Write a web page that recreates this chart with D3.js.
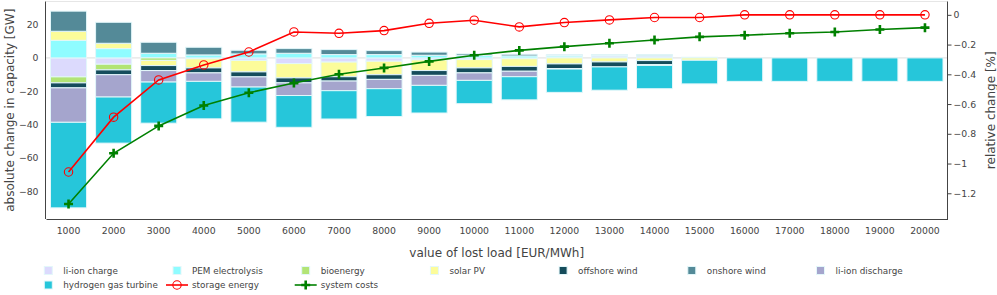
<!DOCTYPE html>
<html><head><meta charset="utf-8">
<script src="https://cdn.jsdelivr.net/npm/d3@7"></script>
<style>body{margin:0;background:#fff}svg{display:block;font-family:"DejaVu Sans",sans-serif}</style>
</head><body><svg id="c" width="997" height="295"></svg>
<script>
const categories = ["1000","2000","3000","4000","5000","6000","7000","8000","9000","10000","11000","12000","13000","14000","15000","16000","17000","18000","19000","20000"];
const seriesNames = ["li-ion charge","PEM electrolysis","bioenergy","solar PV","offshore wind","onshore wind","li-ion discharge","hydrogen gas turbine"];
const seriesColors = ["#dcdafd","#8ffcff","#b2e476","#fcfc9a","#154c5b","#548a98","#a5a5cd","#26c6da"];
const liionCharge   = [-11.4,-3.8,0,-0.5,-1.5,-3.4,-2.5,-2.0,-1.2,-1.0,-0.5,0.6,1.2,1.2,0.4,0,0,0,0,0];
const pemElectrolysis=[10.6,5.6,2.8,1.8,2.4,2.8,2.0,2.0,1.6,1.4,1.2,0.8,0.6,0.4,0,0,0,0,0,0];
const bioenergy     = [-3.6,-3.4,-1.5,0,0,0,0,0,0,0,0,0,0,0,0,0,0,0,0,0];
const solarPV       = [5.4,3.2,-3.1,-5.5,-6.9,-8.6,-8.8,-8.1,-6.4,-5.0,-4.6,-3.6,-2.4,-1.6,-1.4,0,0,0,0,0];
const offshoreWind  = [-3.0,-2.9,-3.0,-3.0,-3.0,-3.0,-2.6,-2.8,-2.9,-3.0,-2.9,-2.8,-3.0,-2.4,0,0,0,0,0,0];
const onshoreWind   = [12.1,12.6,6.6,4.6,2.2,2.8,3.0,2.4,1.9,1.0,1.0,0.6,0.2,0.4,0,0,0,0,0,0];
const liionDischarge= [-20.7,-13.4,-6.9,-5.1,-6.1,-7.6,-5.8,-5.6,-6.0,-4.5,-3.3,-0.3,0,-0.5,0,0,0,0,0,0];
const hydrogenGT    = [-51.4,-27.7,-24.7,-22.5,-21.1,-19.1,-17.0,-16.7,-16.6,-14.0,-13.9,-14.0,-14.0,-14.0,-14.2,-14.1,-14.1,-14.1,-14.1,-14.1];
const storageEnergy = [-1.057,-0.688,-0.438,-0.337,-0.25,-0.115,-0.124,-0.106,-0.057,-0.036,-0.081,-0.052,-0.034,-0.018,-0.018,0,0,0,0,0];
const systemCosts   = [-1.272,-0.931,-0.747,-0.61,-0.524,-0.459,-0.4,-0.357,-0.313,-0.272,-0.239,-0.214,-0.191,-0.169,-0.148,-0.137,-0.124,-0.115,-0.099,-0.086];
const leftTicks = [20,0,-20,-40,-60,-80];
const rightTicks = [0,-0.2,-0.4,-0.6,-0.8,-1,-1.2];
const barSeries = [liionCharge,pemElectrolysis,bioenergy,solarPV,offshoreWind,onshoreWind,liionDischarge,hydrogenGT];
const lineNames = ["storage energy","system costs"];
const lineColors = ["#ff0000","#008000"];

const svg = d3.select("#c");
const L=46, R=947.5, T=1.5, B=219;
const x = d3.scaleBand().domain(categories).range([L,R]).paddingInner(0.2).paddingOuter(0.1);
const y = d3.scaleLinear().domain([-96.8,33.9]).range([B,T]);
const y2 = d3.scaleLinear().domain([-1.373,0.0897]).range([B,T]);
const txt="#444";

// top light border & zero line
svg.append("line").attr("x1",L).attr("x2",R).attr("y1",T).attr("y2",T).attr("stroke","#e6e6e6");
svg.append("line").attr("x1",L).attr("x2",R).attr("y1",y(0)).attr("y2",y(0)).attr("stroke","#dddddd").attr("stroke-width",1);

// stacked bars (relative)
const rects=[];
categories.forEach((c,i)=>{
  let pos=0,neg=0;
  barSeries.forEach((s,k)=>{
    const v=s[i]; if(!v) return;
    let y0,y1;
    if(v>0){y0=pos;y1=pos+v;pos=y1;} else {y0=neg;y1=neg+v;neg=y1;}
    rects.push({c,k,y0,y1});
  });
});
svg.append("g").selectAll("rect").data(rects).join("rect")
  .attr("x",d=>x(d.c)).attr("width",x.bandwidth())
  .attr("y",d=>y(Math.max(d.y0,d.y1))).attr("height",d=>Math.abs(y(d.y0)-y(d.y1)))
  .attr("fill",d=>seriesColors[d.k]).attr("stroke","#e3f7fa").attr("stroke-width",1);

// axes
const gl=svg.append("g").attr("transform",`translate(${L-0.5},0)`).call(d3.axisLeft(y).tickValues(leftTicks).tickSize(0).tickPadding(7).tickFormat(d=>d3.format("")(d).replace("-","\u2212")));
gl.select(".domain").attr("stroke",txt);
const gr=svg.append("g").attr("transform",`translate(${R},0)`).call(d3.axisRight(y2).tickValues(rightTicks).tickSize(4).tickPadding(2).tickFormat(d=>String(d).replace("-","\u2212")));
gr.select(".domain").attr("stroke",txt);
const gb=svg.append("g").attr("transform",`translate(0,${B})`).call(d3.axisBottom(x).tickSize(0).tickPadding(8));
gb.select(".domain").attr("stroke",txt);
svg.selectAll(".tick text").attr("font-size",9.3).attr("fill",txt).attr("font-family","DejaVu Sans");
svg.selectAll(".tick line").attr("stroke",txt);
gl.select(".domain").attr("d",`M0,${T}V${B}`);
gr.select(".domain").attr("d",`M0,${T}V${B}`);

// lines
const cx=d=>x(d)+x.bandwidth()/2;
[storageEnergy,systemCosts].forEach((vals,j)=>{
  const line=d3.line().x((v,i)=>cx(categories[i])).y(v=>y2(v));
  svg.append("path").datum(vals).attr("d",line).attr("fill","none").attr("stroke",lineColors[j]).attr("stroke-width",1.6);
});
function marker(g,j,px,py){
  if(j===0){g.append("circle").attr("cx",px).attr("cy",py).attr("r",4.2).attr("fill","none").attr("stroke",lineColors[0]).attr("stroke-width",1.1);}
  else{g.append("path").attr("d",`M${px-4.5},${py}H${px+4.5}M${px},${py-4.5}V${py+4.5}`).attr("stroke",lineColors[1]).attr("stroke-width",2.6);}
}
const mg=svg.append("g");
[storageEnergy,systemCosts].forEach((vals,j)=>vals.forEach((v,i)=>marker(mg,j,cx(categories[i]),y2(v))));

// titles
svg.append("text").attr("x",(L+R)/2).attr("y",256.5).attr("text-anchor","middle").attr("font-size",12).attr("fill",txt).text("value of lost load [EUR/MWh]");
svg.append("text").attr("transform",`translate(14,${(T+B)/2}) rotate(-90)`).attr("text-anchor","middle").attr("font-size",12).attr("fill",txt).text("absolute change in capacity [GW]");
svg.append("text").attr("transform",`translate(995,${(T+B)/2}) rotate(-90)`).attr("text-anchor","middle").attr("font-size",12).attr("fill",txt).text("relative change [%]");

// legend
const items=seriesNames.map((n,k)=>({n,type:"bar",k})).concat(lineNames.map((n,j)=>({n,type:"line",j})));
const lg=svg.append("g");
items.forEach((it,i)=>{
  const col=i%7,row=Math.floor(i/7);
  const x0=44.3+col*128.7, yc=270.5+row*14.5;
  if(it.type==="bar"){
    lg.append("rect").attr("x",x0).attr("y",yc-4).attr("width",8).attr("height",8).attr("fill",seriesColors[it.k]).attr("stroke","#e3f7fa").attr("stroke-width",1);
  } else {
    lg.append("line").attr("x1",x0-7).attr("x2",x0+15).attr("y1",yc).attr("y2",yc).attr("stroke",lineColors[it.j]).attr("stroke-width",1.6);
    marker(lg,it.j,x0+4,yc);
  }
  lg.append("text").attr("x",x0+19).attr("y",yc).attr("dy","0.35em").attr("font-size",8.8).attr("fill",txt).text(it.n);
});
</script></body></html>
